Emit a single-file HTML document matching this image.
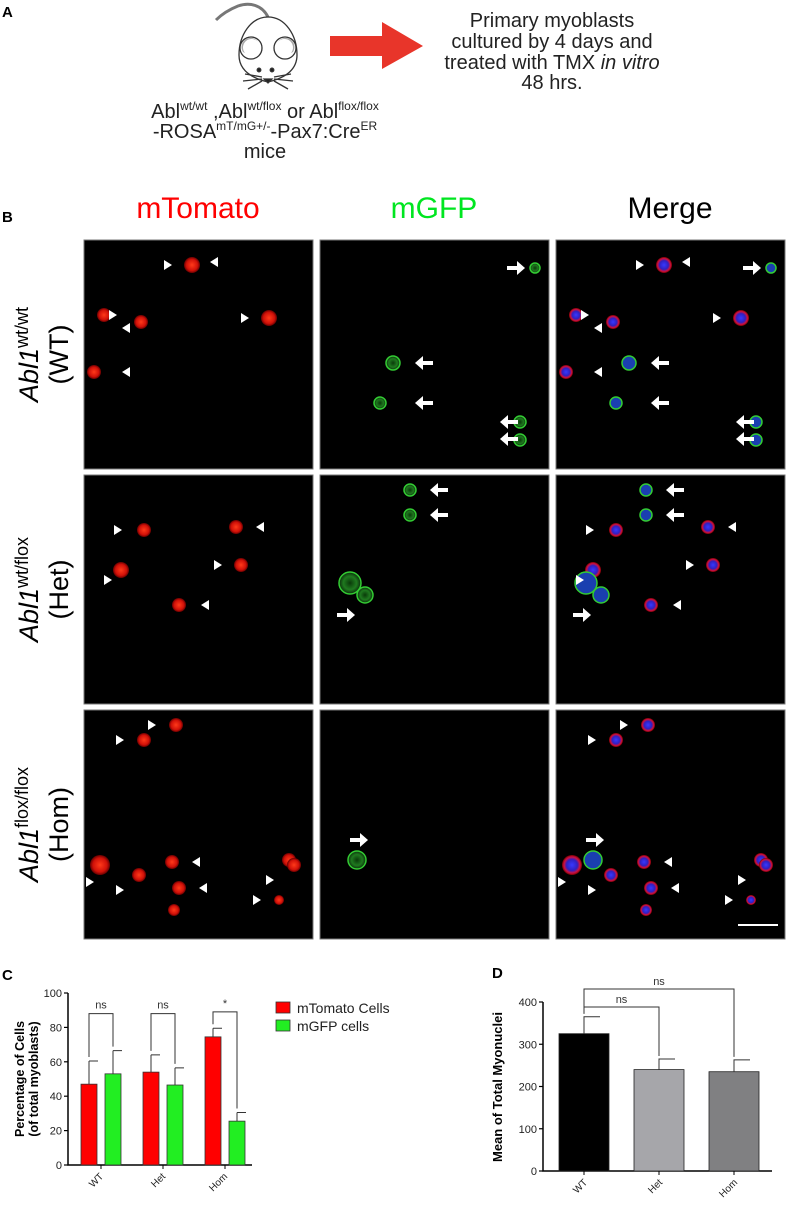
<!DOCTYPE html>
<html><head><meta charset="utf-8"><style>
html,body{margin:0;padding:0;background:#fff;}
body{width:787px;height:1205px;overflow:hidden;font-family:"Liberation Sans",Arial,sans-serif;}
svg text{font-family:"Liberation Sans",Arial,sans-serif;}
</style></head><body>
<svg id="fig" width="787" height="1205" viewBox="0 0 787 1205" xmlns="http://www.w3.org/2000/svg">
<defs>
<radialGradient id="rg"><stop offset="0" stop-color="#ff3a1a"/><stop offset="0.7" stop-color="#d01008"/><stop offset="1" stop-color="#600"/></radialGradient>
<radialGradient id="gg"><stop offset="0" stop-color="#0a3a0a"/><stop offset="0.6" stop-color="#1f7a1f"/><stop offset="1" stop-color="#0b2a0b"/></radialGradient>
<radialGradient id="mg"><stop offset="0" stop-color="#3838ff"/><stop offset="0.55" stop-color="#3020c0"/><stop offset="0.8" stop-color="#d01040"/><stop offset="1" stop-color="#700"/></radialGradient>
</defs>
<!-- Panel A -->
<text x="2" y="17" font-size="15" font-weight="bold">A</text>
<g fill="none" stroke="#333" stroke-width="1.3">
<path d="M268 17 C 262 5, 250 2, 238 6 C 228 10, 222 14, 216 20" stroke="#777" stroke-width="3"/>
<path d="M268 17 C 285 17, 297 35, 297 55 C 297 70, 285 78, 268 82 C 251 78, 239 70, 239 55 C 239 35, 251 17, 268 17 Z" fill="#fff"/>
<ellipse cx="251" cy="48" rx="11" ry="11" fill="#fff"/>
<ellipse cx="285" cy="48" rx="11" ry="11" fill="#fff"/>
<path d="M243 52 A9 9 0 0 1 258 42 A8 8 0 0 0 245 53 Z" fill="#aaa" stroke="none"/>
<path d="M293 52 A9 9 0 0 0 278 42 A8 8 0 0 1 291 53 Z" fill="#aaa" stroke="none"/>
<circle cx="259" cy="70" r="1.8" fill="#222"/><circle cx="272" cy="70" r="1.8" fill="#222"/>
<path d="M264 79 L272 79 L268 83 Z" fill="#222"/>
<path d="M262 77 L245 74 M262 79 L243 81 M262 81 L248 89 M274 77 L291 74 M274 79 L293 81 M274 81 L288 89"/>
</g>
<polygon points="330,36 382,36 382,22 423,46 382,69 382,56 330,56" fill="#e8352a"/>
<g font-size="20" text-anchor="middle" fill="#222">
<text x="552" y="27">Primary myoblasts</text>
<text x="552" y="48">cultured by 4 days and</text>
<text x="552" y="69">treated with TMX <tspan font-style="italic">in vitro</tspan></text>
<text x="552" y="89">48 hrs.</text>
</g>
<g font-size="20" text-anchor="middle" fill="#222">
<text x="265" y="118">Abl<tspan font-size="12" dy="-8">wt/wt</tspan><tspan dy="8"> ,Abl</tspan><tspan font-size="12" dy="-8">wt/flox</tspan><tspan dy="8"> or Abl</tspan><tspan font-size="12" dy="-8">flox/flox</tspan></text>
<text x="265" y="138">-ROSA<tspan font-size="12" dy="-8">mT/mG+/-</tspan><tspan dy="8">-Pax7:Cre</tspan><tspan font-size="12" dy="-8">ER</tspan></text>
<text x="265" y="158">mice</text>
</g>
<!-- Panel B -->
<text x="2" y="222" font-size="15" font-weight="bold">B</text>
<text x="198" y="218" font-size="30" text-anchor="middle" fill="#ff0000">mTomato</text>
<text x="434" y="218" font-size="30" text-anchor="middle" fill="#00e620">mGFP</text>
<text x="670" y="218" font-size="30" text-anchor="middle" fill="#000">Merge</text>
<g id="micro"></g>
<!-- Panel C -->
<text x="2" y="980" font-size="15" font-weight="bold">C</text>
<g id="chartC"></g>
<text x="492" y="978" font-size="15" font-weight="bold">D</text>
<g id="chartD"></g>
</svg>
<script>
const NS="http://www.w3.org/2000/svg";
function mk(tag,attrs,parent){const e=document.createElementNS(NS,tag);for(const k in attrs)e.setAttribute(k,attrs[k]);parent.appendChild(e);return e;}

// ---- micrographs ----
const micro=document.getElementById('micro');
const colX=[84,320,556], rowY=[240,475,710], PW=229, PH=229;
const rowNames=['wt','het','hom'];
const rowSup=['wt/wt','wt/flox','flox/flox'];
const rowAbbr=['(WT)','(Het)','(Hom)'];
const cells=[
 [[108,25,8,0],[20,75,7,0],[57,82,7,0],[185,78,8,0],[10,132,7,0],[215,28,5,1],[73,123,7,1],[60,163,6,1],[200,182,6,1],[200,200,6,1]],
 [[60,55,7,0],[152,52,7,0],[37,95,8,0],[157,90,7,0],[95,130,7,0],[90,15,6,1],[90,40,6,1],[30,108,11,1],[45,120,8,1]],
 [[92,15,7,0],[60,30,7,0],[16,155,10,0],[55,165,7,0],[88,152,7,0],[95,178,7,0],[205,150,7,0],[210,155,7,0],[90,200,6,0],[195,190,5,0],[37,150,9,1]]
];
const marks=[
 [[[88,25,1],[126,22,-1],[33,75,1],[38,88,-1],[165,78,1],[38,132,-1]],[[205,28,1,1],[95,123,-1,1],[95,163,-1,1],[180,182,-1,1],[180,199,-1,1]]],
 [[[38,55,1],[172,52,-1],[28,105,1],[138,90,1],[117,130,-1]],[[110,15,-1,1],[110,40,-1,1],[35,140,1,1]]],
 [[[72,15,1],[40,30,1],[10,172,1],[40,180,1],[108,152,-1],[115,178,-1],[190,170,1],[177,190,1]],[[48,130,1,1]]]
];
for(let r=0;r<3;r++){
  const ry=rowY[r];
  const lab=mk('text',{x:0,y:0,'font-size':27,'text-anchor':'middle',transform:`translate(${38},${ry+PH/2}) rotate(-90)`},micro);
  
  
  const t1=mk('tspan',{'font-style':'italic'},lab);t1.textContent='Abl1';
  const t2=mk('tspan',{'font-size':18,dy:-10},lab);t2.textContent=rowSup[r];
  const lab2=mk('text',{x:0,y:0,'font-size':27,'text-anchor':'middle',transform:`translate(${68},${ry+PH/2}) rotate(-90)`},micro);
  
  
  lab2.textContent=rowAbbr[r];
  for(let c=0;c<3;c++){
    const g=mk('g',{transform:`translate(${colX[c]},${ry})`},micro);
    
    
    mk('rect',{x:0,y:0,width:PW,height:PH,fill:'#000',stroke:'#777','stroke-width':1},g);
    for(const cl of cells[r]){
      const [x,y,rad,gr]=cl;
      if(c===0 && !gr) mk('circle',{cx:x,cy:y,r:rad,fill:'url(#rg)'},g);
      if(c===1 && gr) mk('circle',{cx:x,cy:y,r:rad,fill:'url(#gg)',stroke:'#3c3','stroke-width':1.5},g);
      if(c===2) mk('circle',{cx:x,cy:y,r:rad,fill:gr?'#1a3fb0':'url(#mg)',stroke:gr?'#3c3':'none','stroke-width':1.5},g);
    }
    const [tris,arrs]=marks[r];
    if(c!==1) for(const [x,y,d] of tris){
      mk('polygon',{points:`${x-8*d},${y-5} ${x},${y} ${x-8*d},${y+5}`,fill:'#fff'},g);
    }
    if(c!==0) for(const [x,y,d] of arrs){
      mk('path',{d:`M${x-18*d},${y} L${x-6*d},${y}`,stroke:'#fff','stroke-width':4},g);
      mk('polygon',{points:`${x},${y} ${x-8*d},${y-7} ${x-8*d},${y+7}`,fill:'#fff'},g);
    }
  }
}
const sb=mk('line',{x1:738,y1:925,x2:778,y2:925,stroke:'#fff','stroke-width':2},micro);



// ---- Chart C ----
const cCats=['WT','Het','Hom'];
const cTomato=[47,54,74.5];
const cTomatoErr=[13.5,10,5];
const cGfp=[53,46.5,25.5];
const cGfpErr=[13.5,10,5];
const cTicks=[0,20,40,60,80,100];
const cSig=['ns','ns','*'];
const C=document.getElementById('chartC');
const cy0=1165, cyTop=993, cx0=68, cxEnd=252;
const cY=v=>cy0-(v/100)*(cy0-cyTop);
const groupW=62, cStart=81, barW=16;
cTicks.forEach(t=>{
  mk('line',{x1:cx0-4,x2:cx0,y1:cY(t),y2:cY(t),stroke:'#000','stroke-width':1.2},C);
  const tx=mk('text',{x:cx0-6,y:cY(t)+4,'font-size':11,'text-anchor':'end',fill:'#222'},C);
  
  
  tx.textContent=t;
});
const ca=mk('path',{d:`M${cx0},${cyTop} V${cy0} H${cxEnd}`,fill:'none',stroke:'#000','stroke-width':1.5},C);


cCats.forEach((cat,i)=>{
  const xr=cStart+i*groupW, xg=xr+24;
  [[xr,cTomato[i],cTomatoErr[i],'#ff0000','tomato'],[xg,cGfp[i],cGfpErr[i],'#22ee22','gfp']].forEach(([x,v,e,col,nm])=>{
    const b=mk('rect',{x:x,y:cY(v),width:barW,height:cy0-cY(v),fill:col,stroke:'#333','stroke-width':0.8},C);
    
    
    mk('path',{d:`M${x+barW/2},${cY(v)} V${cY(v+e)} M${x+barW/2},${cY(v+e)} H${x+barW+1}`,stroke:'#333','stroke-width':1,fill:'none'},C);
  });
  const bTop=i===2?cY(89):cY(88);
  mk('path',{d:`M${xr+barW/2},${cY(cTomato[i]+cTomatoErr[i])-4} V${bTop} H${xg+barW/2} V${cY(cGfp[i]+cGfpErr[i])-4}`,fill:'none',stroke:'#333','stroke-width':1},C);
  const st=mk('text',{x:(xr+xg)/2+barW/2,y:bTop-5,'font-size':11,'text-anchor':'middle',fill:'#333'},C);
  
  
  st.textContent=cSig[i];
  const lx=xr+barW+4;
  mk('line',{x1:lx,x2:lx,y1:cy0,y2:cy0+4,stroke:'#000'},C);
  const xl=mk('text',{x:0,y:0,'font-size':10,'text-anchor':'end',fill:'#222',transform:`translate(${lx+3},${cy0+12}) rotate(-45)`},C);
  
  
  xl.textContent=cat;
});
const cyt=mk('text',{x:0,y:0,'font-size':12.5,'font-weight':'bold','text-anchor':'middle',transform:`translate(${24},${1079}) rotate(-90)`},C);


cyt.textContent='Percentage of Cells';
const cyt2=mk('text',{x:0,y:0,'font-size':12.5,'font-weight':'bold','text-anchor':'middle',transform:`translate(${38},${1079}) rotate(-90)`},C);


cyt2.textContent='(of total myoblasts)';
[['#ff0000','mTomato Cells',1002],['#22ee22','mGFP cells',1020]].forEach(([col,lab,y],i)=>{
  const lg=mk('g',{},C);
  
  
  mk('rect',{x:276,y:y,width:14,height:11,fill:col,stroke:'#333','stroke-width':0.8},lg);
  const t=mk('text',{x:297,y:y+11,'font-size':14,fill:'#222'},lg);t.textContent=lab;
});

// ---- Chart D ----
const dCats=['WT','Het','Hom'];
const dVals=[325,240,235];
const dErr=[40,25,28];
const dTicks=[0,100,200,300,400];
const dColors=['#000000','#a6a6aa','#808082'];
const D=document.getElementById('chartD');
const dy0=1171, dyTop=1002, dx0=543, dxEnd=772;
const dY=v=>dy0-(v/400)*(dy0-dyTop);
const dStart=559, dGroup=75, dBarW=50;
dTicks.forEach(t=>{
  mk('line',{x1:dx0-4,x2:dx0,y1:dY(t),y2:dY(t),stroke:'#000','stroke-width':1.2},D);
  const tx=mk('text',{x:dx0-6,y:dY(t)+4,'font-size':11,'text-anchor':'end',fill:'#222'},D);
  
  
  tx.textContent=t;
});
const da=mk('path',{d:`M${dx0},${dyTop} V${dy0} H${dxEnd}`,fill:'none',stroke:'#000','stroke-width':1.5},D);


dCats.forEach((cat,i)=>{
  const x=dStart+i*dGroup, v=dVals[i], e=dErr[i];
  const b=mk('rect',{x:x,y:dY(v),width:dBarW,height:dy0-dY(v),fill:dColors[i],stroke:'#222','stroke-width':0.8},D);
  
  
  mk('path',{d:`M${x+dBarW/2},${dY(v)} V${dY(v+e)} H${x+dBarW/2+16}`,stroke:'#333','stroke-width':1,fill:'none'},D);
  const lx=x+dBarW/2;
  mk('line',{x1:lx,x2:lx,y1:dy0,y2:dy0+4,stroke:'#000'},D);
  const xl=mk('text',{x:0,y:0,'font-size':10,'text-anchor':'end',fill:'#222',transform:`translate(${lx+4},${dy0+12}) rotate(-45)`},D);
  
  
  xl.textContent=cat;
});
const wx=dStart+dBarW/2;
[[1,1007],[2,989]].forEach(([j,by])=>{
  const tx=dStart+j*dGroup+dBarW/2;
  mk('path',{d:`M${wx},${dY(dVals[0]+dErr[0])-3} V${by} H${tx} V${dY(dVals[j]+dErr[j])-3}`,fill:'none',stroke:'#333','stroke-width':1},D);
  const st=mk('text',{x:(wx+tx)/2,y:by-4,'font-size':11,'text-anchor':'middle',fill:'#333'},D);
  
  
  st.textContent='ns';
});
const dyt=mk('text',{x:0,y:0,'font-size':13,'font-weight':'bold','text-anchor':'middle',transform:`translate(${502},${1087}) rotate(-90)`},D);


dyt.textContent='Mean of Total Myonuclei';
</script>
</body></html>
